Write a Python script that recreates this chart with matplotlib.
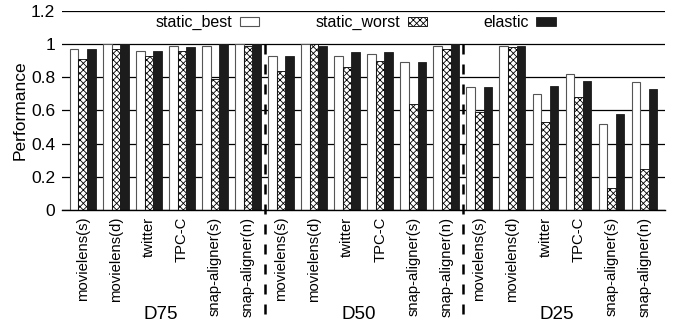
import numpy as np
import matplotlib.pyplot as plt
from matplotlib.transforms import blended_transform_factory

plt.rcParams['font.family'] = ['Liberation Sans', 'DejaVu Sans']
plt.rcParams['hatch.linewidth'] = 0.6

workloads = ["movielens(s)", "movielens(d)", "twitter", "TPC-C",
             "snap-aligner(s)", "snap-aligner(n)"]
groups = ["D75", "D50", "D25"]

static_best = [0.97, 1.00, 0.96, 0.99, 0.99, 1.00,
               0.93, 1.00, 0.93, 0.94, 0.89, 0.99,
               0.74, 0.99, 0.70, 0.82, 0.52, 0.77]
static_worst = [0.91, 0.97, 0.93, 0.96, 0.79, 0.99,
                0.84, 1.00, 0.86, 0.90, 0.64, 0.97,
                0.59, 0.98, 0.53, 0.68, 0.13, 0.25]
elastic = [0.97, 1.00, 0.96, 0.98, 1.00, 1.00,
           0.93, 0.99, 0.95, 0.95, 0.89, 1.00,
           0.74, 0.99, 0.75, 0.78, 0.58, 0.73]

labels = workloads * len(groups)
x = np.arange(len(labels))
w = 0.26

fig = plt.figure(figsize=(6.78, 3.24), dpi=100)
ax = fig.add_axes([0.0914, 0.352, 0.889, 0.614])

ax.set_axisbelow(True)
ax.yaxis.grid(True, color='black', linewidth=0.9)

ax.bar(x - w, static_best, w, color='white', edgecolor='#555555',
       linewidth=0.8, label='static_best')
ax.bar(x, static_worst, w, color='white', edgecolor='black', hatch='xxxxx',
       linewidth=0.6, label='static_worst')
ax.bar(x + w, elastic, w, color='#1c1c1c', edgecolor='#1c1c1c',
       linewidth=0.6, label='elastic')

ax.set_xlim(-0.63, len(labels) - 0.39)
ax.set_ylim(0, 1.2)
ax.set_yticks(np.arange(0, 1.21, 0.2))
ax.set_yticklabels(['0', '0.2', '0.4', '0.6', '0.8', '1', '1.2'])
ax.set_xticks(x)
ax.set_xticklabels(labels, rotation=90)
ax.tick_params(axis='x', length=0, pad=5, labelsize=10.7)
ax.tick_params(axis='y', length=0, labelsize=12.5, pad=5)
ax.set_ylabel('Performance', fontsize=12.5, labelpad=2)

for s in ['top', 'right', 'left']:
    ax.spines[s].set_visible(False)
ax.spines['bottom'].set_linewidth(1.0)

# dashed separators between the groups
n = len(workloads)
for k in range(1, len(groups)):
    ax.plot([k * n - 0.5] * 2, [1.0, -0.72], color='black', linewidth=1.8,
            linestyle=(0, (4, 4)), clip_on=False)

# group names, sitting on the bottom edge of the figure
trans = blended_transform_factory(ax.transData, fig.transFigure)
for k, g in enumerate(groups):
    ax.text(k * n + 2.35, 0.003, g, transform=trans,
            ha='center', va='bottom', fontsize=13.5)

ax.legend(ncol=3, loc='center', bbox_to_anchor=(0.487, 0.942), frameon=False,
          markerfirst=False, fontsize=11.5, columnspacing=3.5,
          handlelength=1.2, handleheight=0.5, handletextpad=0.5,
          borderaxespad=0)

fig.savefig('out.png', dpi=100)
